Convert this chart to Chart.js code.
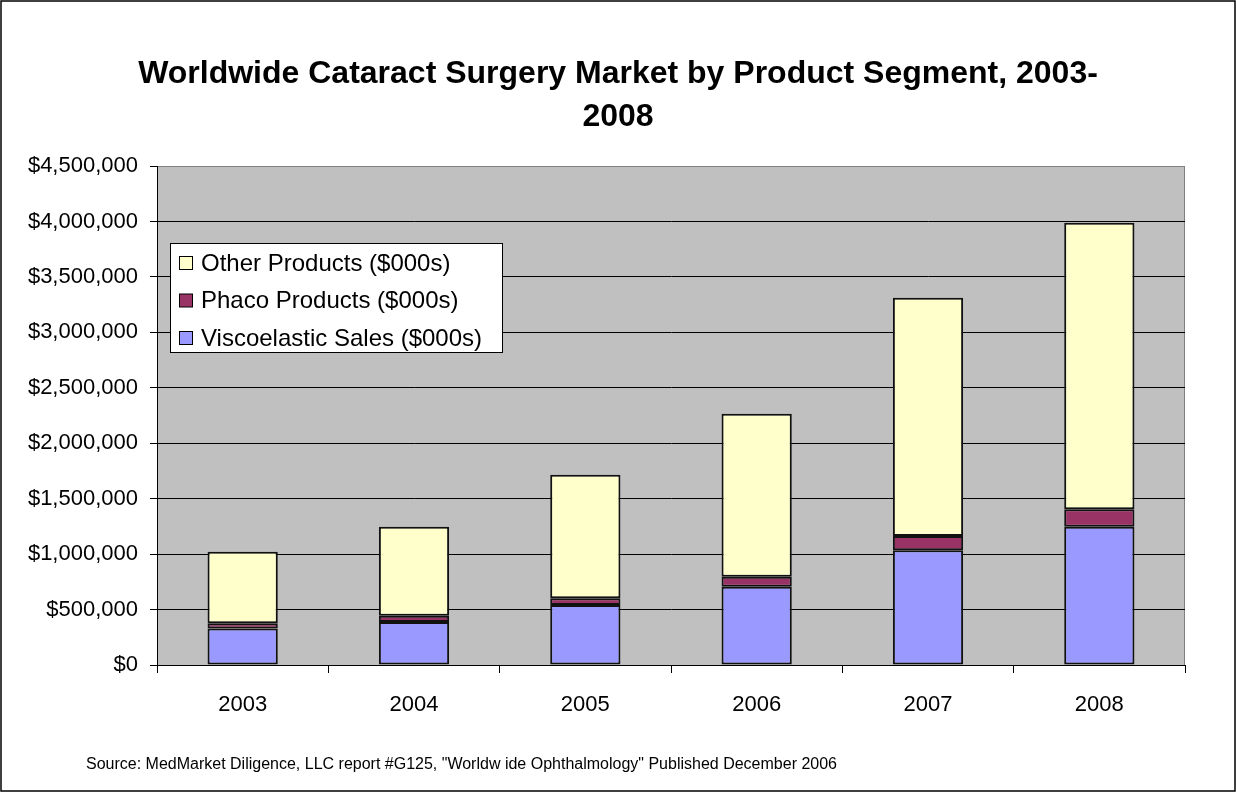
<!DOCTYPE html>
<html>
<head>
<meta charset="utf-8">
<script src="https://cdn.jsdelivr.net/npm/chart.js@4.4.1/dist/chart.umd.min.js"></script>
<style>
  html, body { margin: 0; padding: 0; background: #fff; }
  #wrap { width: 1236px; height: 792px; }
</style>
</head>
<body>
<div id="wrap"><canvas id="chartE" width="1236" height="792"></canvas></div>
<script>
let years = ["2003", "2004", "2005", "2006", "2007", "2008"];

let viscoValues = [330000, 388000, 541000, 706000, 1034000, 1247000];
let phacoValues = [46000, 57000, 60000, 90000, 129000, 157000];
let otherValues = [646000, 802000, 1115000, 1470000, 2149000, 2584000];

let seriesLabels = ["Viscoelastic Sales ($000s)", "Phaco Products ($000s)", "Other Products ($000s)"];
let seriesColors = ["#9999FF", "#993366", "#FFFFCC"];

let yTicks = [0, 500000, 1000000, 1500000, 2000000, 2500000, 3000000, 3500000, 4000000, 4500000];

let titleLines = ["Worldwide Cataract Surgery Market by Product Segment, 2003-", "2008"];
let sourceText = "Source: MedMarket Diligence, LLC report #G125, \"Worldw ide Ophthalmology\" Published December 2006";

let fontFam = "'Liberation Sans', Arial, sans-serif";

/////////// DECORATION PLUGIN /////////////

let framePlugin = {
    id: "frame",
    beforeDraw(chart) {
        let ctx = chart.ctx;
        let a = chart.chartArea;
        ctx.save();
        ctx.fillStyle = "#fff";
        ctx.fillRect(0, 0, chart.width, chart.height);
        ctx.fillStyle = "#C0C0C0";
        ctx.fillRect(a.left, a.top, a.right - a.left, a.bottom - a.top);
        ctx.strokeStyle = "#808080";
        ctx.lineWidth = 1;
        ctx.strokeRect(a.left + 0.5, a.top + 0.5, a.right - a.left - 1, a.bottom - a.top);
        ctx.restore();
    },
    afterDraw(chart) {
        let ctx = chart.ctx;
        ctx.save();
        // outer border
        ctx.strokeStyle = "#000";
        ctx.lineWidth = 1.5;
        ctx.strokeRect(1, 1, chart.width - 2, chart.height - 2);

        // title
        ctx.fillStyle = "#000";
        ctx.font = "bold 32px " + fontFam;
        ctx.textAlign = "center";
        ctx.textBaseline = "middle";
        ctx.fillText(titleLines[0], 618, 74);
        ctx.fillText(titleLines[1], 618, 117);

        // source
        ctx.font = "16px " + fontFam;
        ctx.textAlign = "left";
        ctx.fillText(sourceText, 86, 765);

        // legend (inside plot area), top item first
        let lx = 170, ly = 243, lw = 332, lh = 109;
        ctx.fillStyle = "#fff";
        ctx.fillRect(lx, ly, lw, lh);
        ctx.strokeStyle = "#000";
        ctx.lineWidth = 1;
        ctx.strokeRect(lx + 0.5, ly + 0.5, lw, lh);
        ctx.font = "24px " + fontFam;
        ctx.textBaseline = "middle";
        let ds = chart.data.datasets;
        for (let i = 0; i < ds.length; i++) {
            let d = ds[ds.length - 1 - i];
            let cy = 263 + i * 37.5;
            ctx.fillStyle = d.backgroundColor;
            ctx.fillRect(179.5, cy - 6.5, 13, 13);
            ctx.strokeStyle = "#000";
            ctx.strokeRect(179.5, cy - 6.5, 13, 13);
            ctx.fillStyle = "#000";
            ctx.fillText(d.label, 201, cy + 1);
        }
        ctx.restore();
    },
};

/////////// CHART /////////////

let chartData = {
    labels: years,
    datasets: [
        { label: seriesLabels[0], data: viscoValues, backgroundColor: seriesColors[0] },
        { label: seriesLabels[1], data: phacoValues, backgroundColor: seriesColors[1] },
        { label: seriesLabels[2], data: otherValues, backgroundColor: seriesColors[2] },
    ],
};

let chartOptions = {
    responsive: false,
    animation: false,
    layout: {
        padding: { left: 0, top: 166, right: 51, bottom: 0 },
    },
    datasets: {
        bar: {
            borderColor: "#111",
            borderWidth: 2,
            borderSkipped: false,
            categoryPercentage: 1,
            barPercentage: 0.41,
        },
    },
    scales: {
        x: {
            stacked: true,
            afterFit: (s) => { s.height = 127; },
            border: { color: "#000", width: 1 },
            grid: {
                offset: true,
                drawOnChartArea: false,
                tickLength: 8,
                color: "#000",
            },
            ticks: {
                color: "#000",
                padding: 19,
                font: { family: fontFam, size: 22 },
            },
        },
        y: {
            stacked: true,
            min: 0,
            max: 4500000,
            afterFit: (s) => { s.width = 157; },
            afterBuildTicks: (s) => { s.ticks = yTicks.map((v) => ({ value: v })); },
            border: { color: "#000", width: 1 },
            grid: {
                color: (c) => (c.tick && c.tick.value === 4500000 ? "#808080" : "#000"),
                tickColor: "#000",
                tickLength: 7,
            },
            ticks: {
                color: "#000",
                padding: 12,
                font: { family: fontFam, size: 22 },
                callback: (v) => "$" + Number(v).toLocaleString("en-US"),
            },
        },
    },
    plugins: {
        legend: { display: false },
        title: { display: false },
        tooltip: { enabled: false },
    },
};

let cataractChart = new Chart(document.getElementById("chartE"), {
    type: "bar",
    data: chartData,
    options: chartOptions,
    plugins: [framePlugin],
});
</script>
</body>
</html>
